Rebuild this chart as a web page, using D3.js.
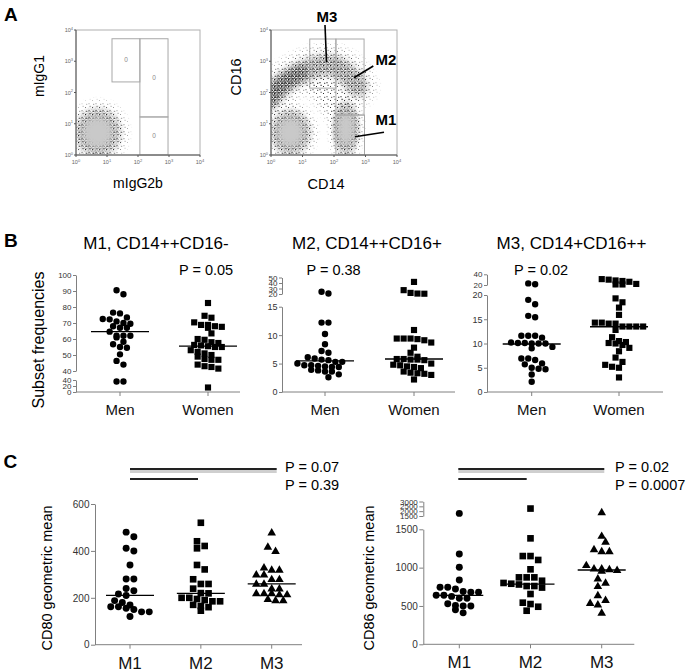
<!DOCTYPE html>
<html><head><meta charset="utf-8">
<script src="https://cdn.jsdelivr.net/npm/d3@7/dist/d3.min.js"></script>
<style>body{margin:0;background:#fff}svg{display:block}</style>
</head><body>
<svg id="fig" width="689" height="672"></svg>
<script>
// ================= DATA =================
// Panel A (flow cytometry, log10 decades)
const decadeTicks = [1, 10, 100, 1000, 10000];
const isoGates = [[14.5, 115, 218, 5250], [115, 930, 16.5, 5250], [115, 930, 1, 16.5]]; // xMin,xMax,yMin,yMax
const isoGateLabels = ["0", "0", "0"];
const monoGates = [[17, 115, 138, 5150], [115, 900, 19, 5150], [115, 930, 1, 19]];
// density regions in log10 units: [cx, cy, rx, ry]
const isoClusters = [[0.7, 0.72, 0.88, 0.9]];
const monoClusters = [[0.62, 0.72, 0.75, 0.85], [2.38, 0.85, 0.5, 1.0]];
const monoArc = [[-0.1, 1.75], [0.4, 2.3], [0.92, 2.62], [1.4, 2.82], [1.81, 2.88], [2.19, 2.76], [2.5, 2.5], [2.72, 2.2]];
const monoBridge = [[1.5, 2.3], [1.85, 1.8], [2.2, 1.35]];

// Panel B
const sexes = ["Men", "Women"];
const m1Men = [90.5, 88, 76.5, 76, 73.5, 72.5, 72.3, 71, 69.5, 68, 67, 67, 70, 64.6, 62, 61, 62, 62, 58.3, 56.7, 54.5, 55, 50.4, 46.3, 44, 35, 35];
const m1Women = [82.5, 74.5, 73.3, 68.8, 68, 67.6, 68.8, 70.4, 67, 63.5, 59.5, 60, 57.5, 56.3, 58, 55, 55, 55.5, 56, 53, 52, 51, 50, 49, 47.5, 47, 47, 44, 42.5, 41.5, 43, 15];
const m2Men = [24, 21, 12.2, 12.2, 10.2, 8.4, 7.2, 6.9, 6.1, 5.9, 5.7, 5.6, 5.3, 5.3, 5.0, 4.7, 4.5, 4.6, 4.7, 4.4, 4.4, 3.9, 3.6, 3.8, 3.6, 3.1, 2.6];
const m2Women = [42, 27, 22, 20.8, 20.5, 10.9, 9.4, 9.3, 8.7, 9.1, 9.4, 9.4, 7.8, 6.9, 6.2, 5.8, 5.7, 5.8, 5.6, 5.7, 5.0, 4.7, 4.4, 4.8, 4.5, 4.2, 3.4, 3.3, 3.6, 3.2, 3.0, 2.2];
const m3Men = [23, 21.5, 19, 18.1, 15.7, 15.4, 11.6, 11.2, 11.6, 11.6, 10.2, 10.1, 10.0, 10.0, 10.1, 10.0, 9.0, 9.3, 6.9, 6.6, 6.9, 5.9, 5.7, 4.7, 5.0, 4.8, 3.6, 2.1];
const m3Women = [30, 28.5, 22, 21, 21, 26, 27.5, 31, 19.3, 18.5, 17.4, 15.9, 14.1, 13.5, 13.5, 14.3, 14.3, 13.5, 13.5, 14.1, 12.8, 10.1, 10.5, 11.3, 10.0, 10.3, 9.1, 9.7, 8.4, 7.1, 6.2, 5.2, 5.0, 5.6, 3.0];
const bMedians = [[64.6, 55.6], [5.47, 5.8], [9.9, 13.45]];
const bTitles = ["M1, CD14++CD16-", "M2, CD14++CD16+", "M3, CD14+CD16++"];
const bPvalues = ["P = 0.05", "P = 0.38", "P = 0.02"];
const b1Ticks = [[0, 20, 40], [40, 50, 60, 70, 80, 90, 100]];
const b2Ticks = [[0, 5, 10, 15], [20, 30, 40, 50]];
const b3Ticks = [[0, 5, 10, 15, 20], [20, 40]];

// Panel C
const subsets = ["M1", "M2", "M3"];
const cd80M1 = [480, 460, 411, 400, 340, 280, 280, 230, 240, 210, 216, 188, 180, 169, 162, 162, 155, 140, 140, 150, 120];
const cd80M2 = [520, 441, 421, 411, 340, 321, 279, 259, 259, 239, 219, 220, 200, 195, 190, 185, 200, 185, 160, 170, 165, 145];
const cd80M3 = [479, 418, 400, 330, 320, 320, 300, 300, 280, 280, 260, 260, 240, 240, 220, 220, 220, 215, 215, 190, 190, 195];
const cd86M1 = [1770, 1177, 1004, 838, 745, 720, 745, 680, 680, 690, 640, 625, 640, 600, 600, 530, 500, 500, 505, 450, 410];
const cd86M2 = [2270, 1382, 1151, 1151, 1100, 978, 873, 829, 873, 873, 760, 780, 790, 800, 740, 656, 525, 490, 543, 438, 760];
const cd86M3 = [1900, 1416, 1338, 1242, 1216, 1216, 1034, 980, 960, 990, 990, 970, 860, 803, 760, 640, 580, 540, 520, 412];
const cd80Medians = [210, 219, 259];
const cd86Medians = [639, 786, 969];
const cd80Ticks = [0, 200, 400, 600];
const cd86Ticks = [[0, 500, 1000, 1500], [1500, 2000, 2500, 3000]];
const cd80P = ["P = 0.07", "P = 0.39"];
const cd86P = ["P = 0.02", "P = 0.0007"];

// ================= SETUP =================
const FONT = "'Liberation Sans', Arial, Helvetica, sans-serif";
const svg = d3.select("#fig").style("font-family", FONT);
const defs = svg.append("defs");

function addPattern(id, size, pts, color, s = 1) {
  const p = defs.append("pattern").attr("id", id).attr("width", size).attr("height", size).attr("patternUnits", "userSpaceOnUse");
  pts.forEach(([x, y]) => p.append("rect").attr("x", x).attr("y", y).attr("width", s).attr("height", s).attr("fill", color));
}
addPattern("speck", 3.5, [[0.2, 0.4], [1.9, 1.1], [0.9, 2.3], [2.6, 2.9]], "#111", 1.05);
addPattern("speckLight", 4, [[0.5, 0.5], [2.5, 2.5]], "#8a8a8a");
addPattern("sparse", 7, [[1, 2], [4.5, 5.2], [5.6, 0.8], [2.2, 5.8]], "#222");
const rg = defs.append("radialGradient").attr("id", "fade");
rg.append("stop").attr("offset", "0%").attr("stop-color", "#fff");
rg.append("stop").attr("offset", "60%").attr("stop-color", "#fff");
rg.append("stop").attr("offset", "100%").attr("stop-color", "#000");
function blur(id, sd) {
  defs.append("filter").attr("id", id).attr("x", "-60%").attr("y", "-60%").attr("width", "220%").attr("height", "220%")
    .append("feGaussianBlur").attr("stdDeviation", sd);
}
blur("blur2", 2); blur("blur3", 3); blur("blur4", 4); blur("blur6", 6);

function text(x, y, s, size, opts = {}) {
  const t = svg.append("text").attr("x", x).attr("y", y).attr("font-size", size).attr("fill", opts.fill || "#000").text(s);
  if (opts.anchor) t.attr("text-anchor", opts.anchor);
  if (opts.weight) t.attr("font-weight", opts.weight);
  if (opts.rotate) t.attr("transform", `rotate(-90 ${x} ${y})`);
  if (opts.baseline) t.attr("dominant-baseline", opts.baseline);
  return t;
}

// ================= PANEL A =================
let maskCount = 0;
function flowPlot(frame, gates, gateLabels, clusters, arc, bridge) {
  const x = d3.scaleLog().domain([1, 1e4]).range([frame.x0, frame.x1]);
  const y = d3.scaleLog().domain([1, 1e4]).range([frame.y0, frame.y1]);
  const P = v => Math.pow(10, v);
  const g = svg.append("g");
  const cid = "clip" + (maskCount++);
  defs.append("clipPath").attr("id", cid).append("rect")
    .attr("x", frame.x0).attr("y", frame.y1).attr("width", frame.x1 - frame.x0).attr("height", frame.y0 - frame.y1);
  const dots = g.append("g").attr("clip-path", `url(#${cid})`);

  function maskedEllipse(cx, cy, rx, ry, fill, scale) {
    const mid = "mask" + (maskCount++);
    defs.append("mask").attr("id", mid).append("ellipse")
      .attr("cx", cx).attr("cy", cy).attr("rx", rx * scale).attr("ry", ry * scale).attr("fill", "url(#fade)");
    dots.append("ellipse").attr("cx", cx).attr("cy", cy).attr("rx", rx * scale).attr("ry", ry * scale)
      .attr("fill", fill).attr("mask", `url(#${mid})`);
  }
  function bandPath(pts, width, fill, sd) {
    const line = d3.line().x(d => x(P(d[0]))).y(d => y(P(d[1]))).curve(d3.curveCatmullRom);
    const mid = "mask" + (maskCount++);
    defs.append("mask").attr("id", mid).attr("maskUnits", "userSpaceOnUse")
      .attr("x", 0).attr("y", 0).attr("width", 689).attr("height", 672)
      .append("path").attr("d", line(pts)).attr("fill", "none").attr("stroke", "#fff")
      .attr("stroke-width", width).attr("stroke-linecap", "round").attr("filter", `url(#${sd})`);
    dots.append("path").attr("d", line(pts)).attr("fill", "none").attr("stroke", fill)
      .attr("stroke-width", width + 14).attr("stroke-linecap", "round").attr("mask", `url(#${mid})`);
  }

  if (bridge) bandPath(bridge, 24, "url(#sparse)", "blur6");
  if (arc) {
    bandPath(arc, 36, "url(#sparse)", "blur6");
    bandPath(arc, 20, "url(#speck)", "blur3");
  }
  clusters.forEach(([cx, cy, rx, ry]) => {
    const px = x(P(cx)), py = y(P(cy));
    const prx = x(P(cx + rx)) - px, pry = py - y(P(cy + ry));
    maskedEllipse(px, py, prx, pry, "url(#sparse)", 1.3);
    maskedEllipse(px, py, prx, pry, "url(#speck)", 1.0);
    dots.append("ellipse").attr("cx", px).attr("cy", py).attr("rx", prx * 0.55).attr("ry", pry * 0.55)
      .attr("fill", "#d2d2d2").attr("filter", "url(#blur3)");
    dots.append("ellipse").attr("cx", px).attr("cy", py).attr("rx", prx * 0.5).attr("ry", pry * 0.5)
      .attr("fill", "url(#speckLight)").attr("filter", "url(#blur2)");
  });
  if (arc) bandPath(arc.slice(0, 3), 16, "url(#speck)", "blur3");

  gates.forEach(([x0, x1, y0, y1], i) => {
    g.append("rect").attr("x", x(x0)).attr("y", y(y1)).attr("width", x(x1) - x(x0)).attr("height", y(y0) - y(y1))
      .attr("fill", "none").attr("stroke", "#a8a8a8").attr("stroke-width", 1);
    if (gateLabels) {
      g.append("text").attr("x", (x(x0) + x(x1)) / 2).attr("y", (y(y0) + y(y1)) / 2 + 2)
        .attr("text-anchor", "middle").attr("font-size", 6.5).attr("fill", "#8a8a8a").text(gateLabels[i]);
    }
  });
  g.append("rect").attr("x", frame.x0).attr("y", frame.y1).attr("width", frame.x1 - frame.x0)
    .attr("height", frame.y0 - frame.y1).attr("fill", "none").attr("stroke", "#b0b0b0");
  g.append("path").attr("d", `M${frame.x0},${frame.y1}V${frame.y0}H${frame.x1}`).attr("fill", "none").attr("stroke", "#555");
  decadeTicks.forEach((t, i) => {
    g.append("line").attr("x1", x(t)).attr("x2", x(t)).attr("y1", frame.y0).attr("y2", frame.y0 + 2).attr("stroke", "#555");
    g.append("line").attr("y1", y(t)).attr("y2", y(t)).attr("x1", frame.x0).attr("x2", frame.x0 - 2).attr("stroke", "#555");
    const tx = g.append("text").attr("x", x(t)).attr("y", frame.y0 + 9).attr("text-anchor", "middle")
      .attr("font-size", 5.5).attr("fill", "#666");
    tx.append("tspan").text("10");
    tx.append("tspan").attr("dy", -2.5).attr("font-size", 4).text(String(i));
    const ty = g.append("text").attr("x", frame.x0 - 3).attr("y", y(t) + 2).attr("text-anchor", "end")
      .attr("font-size", 5.5).attr("fill", "#666");
    ty.append("tspan").text("10");
    ty.append("tspan").attr("dy", -2.5).attr("font-size", 4).text(String(i));
  });
}

text(4, 21, "A", 19, { weight: "bold" });
flowPlot({ x0: 76, x1: 200, y0: 155, y1: 30 }, isoGates, isoGateLabels, isoClusters, null, null);
flowPlot({ x0: 271, x1: 397, y0: 155, y1: 30 }, monoGates, null, monoClusters, monoArc, monoBridge);
text(39, 76, "mIgG1", 14, { anchor: "middle", rotate: true, baseline: "central" });
text(138, 188, "mIgG2b", 14, { anchor: "middle" });
text(236, 77, "CD16", 14.5, { anchor: "middle", rotate: true, baseline: "central" });
text(326, 189, "CD14", 14.5, { anchor: "middle" });
text(327, 21.5, "M3", 15, { anchor: "middle", weight: "bold" });
text(386, 65, "M2", 15, { anchor: "middle", weight: "bold" });
text(386, 125, "M1", 15, { anchor: "middle", weight: "bold" });
[[325, 25, 326.5, 62], [354, 77.7, 373.3, 66], [355, 136.7, 384, 132.3]].forEach(([a, b, c, d]) =>
  svg.append("line").attr("x1", a).attr("y1", b).attr("x2", c).attr("y2", d).attr("stroke", "#000").attr("stroke-width", 1.6));

// ================= SHARED DOT-PLOT HELPERS =================
function brokenY(segs) {
  const scales = segs.map(s => d3.scaleLinear().domain(s.domain).range(s.range));
  const f = v => {
    for (let i = 0; i < segs.length; i++) {
      if (v <= segs[i].domain[1] || i === segs.length - 1) return scales[i](v);
    }
  };
  f.scales = scales;
  return f;
}
// GraphPad-like row layout: points with close values share a centred row
function swarm(values, yFn, step) {
  const items = values.map(v => ({ v, y: yFn(v) })).sort((a, b) => a.y - b.y);
  const rows = [];
  items.forEach(it => {
    const r = rows[rows.length - 1];
    if (r && it.y - r[0].y < step * 0.72) r.push(it); else rows.push([it]);
  });
  const placed = [];
  const minD = step * 0.88;
  rows.forEach(r => {
    const n = r.length;
    const tryShift = s => r.map((it, i) => ({ it, x: (i - (n - 1) / 2) * step + s }));
    const ok = arr => arr.every(a => placed.every(p => (p.x - a.x) ** 2 + (p.y - a.it.y) ** 2 >= minD * minD));
    let arr = null;
    for (const s of [0, step / 2, -step / 2, step, -step]) { const c = tryShift(s); if (ok(c)) { arr = c; break; } }
    if (!arr) arr = tryShift(0);
    arr.forEach(a => { a.it.x = a.x; placed.push(a.it); });
  });
  return items;
}
const symbols = { circle: d3.symbolCircle, square: d3.symbolSquare, triangle: d3.symbolTriangle };

function dotPlot(cfg) {
  const g = svg.append("g");
  const x = d3.scalePoint().domain(cfg.cats).range(cfg.catRange);
  cfg.y.scales.forEach((s, i) => {
    const ax = d3.axisLeft(s).tickValues(cfg.ticks[i]).tickFormat(d3.format("d"))
      .tickSize(cfg.tickSize).tickSizeOuter(0).tickPadding(1.5);
    const ag = g.append("g").attr("transform", `translate(${cfg.axisX},0)`).call(ax);
    ag.select(".domain").attr("stroke", "#808080");
    ag.selectAll(".tick line").attr("stroke", "#808080");
    const compressed = i > 0 || (cfg.lowCompressed && i === 0);
    ag.selectAll(".tick text").attr("font-size", compressed ? 8 : cfg.tickFont)
      .attr("fill", "#333").attr("font-family", FONT);
  });
  g.append("line").attr("x1", cfg.axisX).attr("x2", cfg.axisEnd).attr("y1", cfg.baseY).attr("y2", cfg.baseY)
    .attr("stroke", "#808080");
  cfg.cats.forEach(c => {
    g.append("line").attr("x1", x(c)).attr("x2", x(c)).attr("y1", cfg.baseY).attr("y2", cfg.baseY + 4).attr("stroke", "#808080");
    g.append("text").attr("x", x(c)).attr("y", cfg.baseY + cfg.labelDy).attr("text-anchor", "middle")
      .attr("font-size", cfg.catFont).attr("fill", "#111").text(c);
  });
  cfg.series.forEach((vals, i) => {
    const cx = x(cfg.cats[i]);
    const sw = swarm(vals, cfg.y, cfg.spacing);
    const shape = cfg.shapes[i];
    g.selectAll(null).data(sw).join("path")
      .attr("d", d3.symbol().type(symbols[shape]).size(cfg.sizes[shape]))
      .attr("transform", d => `translate(${cx + d.x},${d.y + (shape === "triangle" ? 0.6 : 0)})`)
      .attr("fill", "#000");
    const my = cfg.y(cfg.medians[i]);
    g.append("line").attr("x1", cx - cfg.medHalf).attr("x2", cx + cfg.medHalf).attr("y1", my).attr("y2", my)
      .attr("stroke", "#000").attr("stroke-width", 1.3);
  });
  return g;
}

// ================= PANEL B =================
text(4, 247, "B", 19, { weight: "bold" });
text(38, 340, "Subset frequencies", 16, { anchor: "middle", rotate: true, baseline: "central" });
const bSizes = { circle: 32, square: 38 };
const bLayout = [
  { axisX: 76, axisEnd: 240, catRange: [120, 208], y: brokenY([{ domain: [0, 40], range: [392, 380] }, { domain: [40, 100], range: [371, 275] }]), ticks: b1Ticks, series: [m1Men, m1Women], titleX: 156, pX: 179, low: true },
  { axisX: 282, axisEnd: 455, catRange: [325, 414], y: brokenY([{ domain: [0, 15], range: [392, 306.7] }, { domain: [20, 50], range: [294, 277.5] }]), ticks: b2Ticks, series: [m2Men, m2Women], titleX: 367, pX: 306.5, low: false },
  { axisX: 487, axisEnd: 663, catRange: [531.7, 619], y: brokenY([{ domain: [0, 20], range: [392, 295] }, { domain: [20, 40], range: [285, 274.3] }]), ticks: b3Ticks, series: [m3Men, m3Women], titleX: 571.5, pX: 514, low: false }
];
bLayout.forEach((L, i) => {
  dotPlot({
    cats: sexes, catRange: L.catRange, axisX: L.axisX, axisEnd: L.axisEnd, baseY: 392, y: L.y, ticks: L.ticks,
    tickSize: 3, tickFont: 9, catFont: 15, labelDy: 23, series: L.series, shapes: ["circle", "square"],
    sizes: bSizes, spacing: 6.9, medians: bMedians[i], medHalf: 29, lowCompressed: L.low
  });
  text(L.titleX, 249, bTitles[i], 17, { anchor: "middle" });
  text(L.pX, 275, bPvalues[i], 14.5);
});

// ================= PANEL C =================
text(3.5, 468, "C", 19, { weight: "bold" });
const cSizes = { circle: 38, square: 44, triangle: 32 };
const cLayout = [
  { axisX: 95, axisEnd: 302, catRange: [130, 271.7], baseY: 644.7, y: brokenY([{ domain: [0, 600], range: [644.7, 504] }]), ticks: [cd80Ticks], series: [cd80M1, cd80M2, cd80M3], medians: cd80Medians, label: "CD80 geometric mean", labelX: 47, pv: cd80P, pX: 285, bx: [130, 276.7, 198] },
  { axisX: 423.3, axisEnd: 634.3, catRange: [459.3, 601.7], baseY: 644.3, y: brokenY([{ domain: [0, 1500], range: [644.3, 529.3] }, { domain: [1500, 3000], range: [516, 501.5] }]), ticks: cd86Ticks, series: [cd86M1, cd86M2, cd86M3], medians: cd86Medians, label: "CD86 geometric mean", labelX: 368.5, pv: cd86P, pX: 615, bx: [458.3, 604.3, 526.7] }
];
cLayout.forEach(L => {
  dotPlot({
    cats: subsets, catRange: L.catRange, axisX: L.axisX, axisEnd: L.axisEnd, baseY: L.baseY, y: L.y, ticks: L.ticks,
    tickSize: 4, tickFont: 10, catFont: 17, labelDy: 24, series: L.series, shapes: ["circle", "square", "triangle"],
    sizes: cSizes, spacing: 7.7, medians: L.medians, medHalf: 24, lowCompressed: false
  });
  text(L.labelX, 578, L.label, 14.5, { anchor: "middle", rotate: true, baseline: "central" });
  svg.append("line").attr("x1", L.bx[0]).attr("x2", L.bx[1]).attr("y1", 471.5).attr("y2", 471.5).attr("stroke", "#cfcfcf").attr("stroke-width", 3);
  svg.append("line").attr("x1", L.bx[0]).attr("x2", L.bx[1]).attr("y1", 469).attr("y2", 469).attr("stroke", "#222").attr("stroke-width", 1.8);
  svg.append("line").attr("x1", L.bx[0]).attr("x2", L.bx[2]).attr("y1", 479).attr("y2", 479).attr("stroke", "#222").attr("stroke-width", 2);
  text(L.pX, 471.5, L.pv[0], 14.5);
  text(L.pX, 490, L.pv[1], 14.5);
});
</script>
</body></html>
